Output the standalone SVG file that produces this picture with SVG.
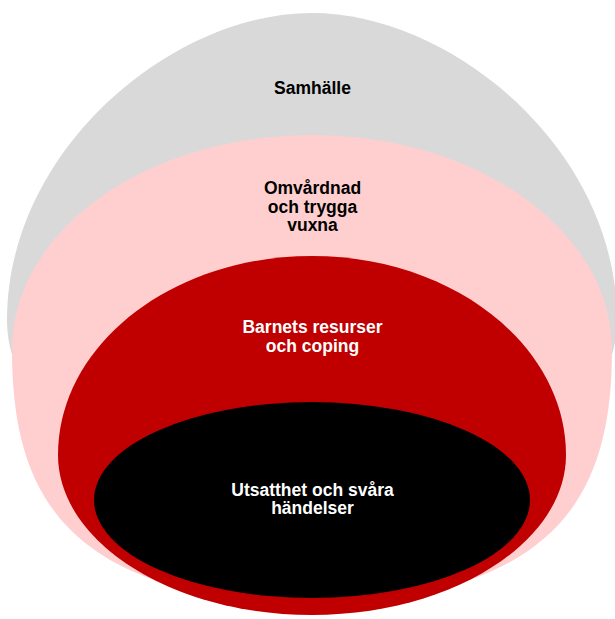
<svg xmlns="http://www.w3.org/2000/svg" width="615" height="619" viewBox="0 0 615 619">
  <style>
    .lbl { font-family: "Liberation Sans", Arial, sans-serif; font-weight: bold; font-size: 17.5px; text-anchor: middle; }
    .dark { fill: #000000; }
    .light { fill: #ffffff; }
  </style>
  <rect x="0" y="0" width="615" height="619" fill="#ffffff"/>
  <g id="samhalle">
    <path d="M312,13 C452,13 617,150 617,320 C617,400 544,470 312,470 C80,470 7,400 7,320 C7,150 172,13 312,13 Z" fill="#d9d9d9"/>
    <text class="lbl dark" x="312.5" y="94">Samhälle</text>
  </g>
  <g id="omvardnad">
    <path d="M312,135 C478,135 612,231 612,350 C612,470 574,545 464,582 C424,598 364,605 312,605 C260,605 200,598 160,582 C50,545 12,470 12,350 C12,231 146,135 312,135 Z" fill="#ffcfcf"/>
    <text class="lbl dark" x="312.5" y="194">Omvårdnad</text>
    <text class="lbl dark" x="312.5" y="212.5">och trygga</text>
    <text class="lbl dark" x="312.5" y="231">vuxna</text>
  </g>
  <g id="barnets">
    <path d="M312,256 C452,256 566,345 566,455 C566,542 452,615 312,615 C172,615 58,542 58,455 C58,345 172,256 312,256 Z" fill="#c00000"/>
    <text class="lbl light" x="312.5" y="333.3">Barnets resurser</text>
    <text class="lbl light" x="312.5" y="351.7">och coping</text>
  </g>
  <g id="utsatthet">
    <ellipse cx="312" cy="500" rx="218" ry="98" fill="#000000"/>
    <text class="lbl light" x="312.5" y="496">Utsatthet och svåra</text>
    <text class="lbl light" x="312.5" y="514.4">händelser</text>
  </g>
  <g id="connectors"/>
</svg>
